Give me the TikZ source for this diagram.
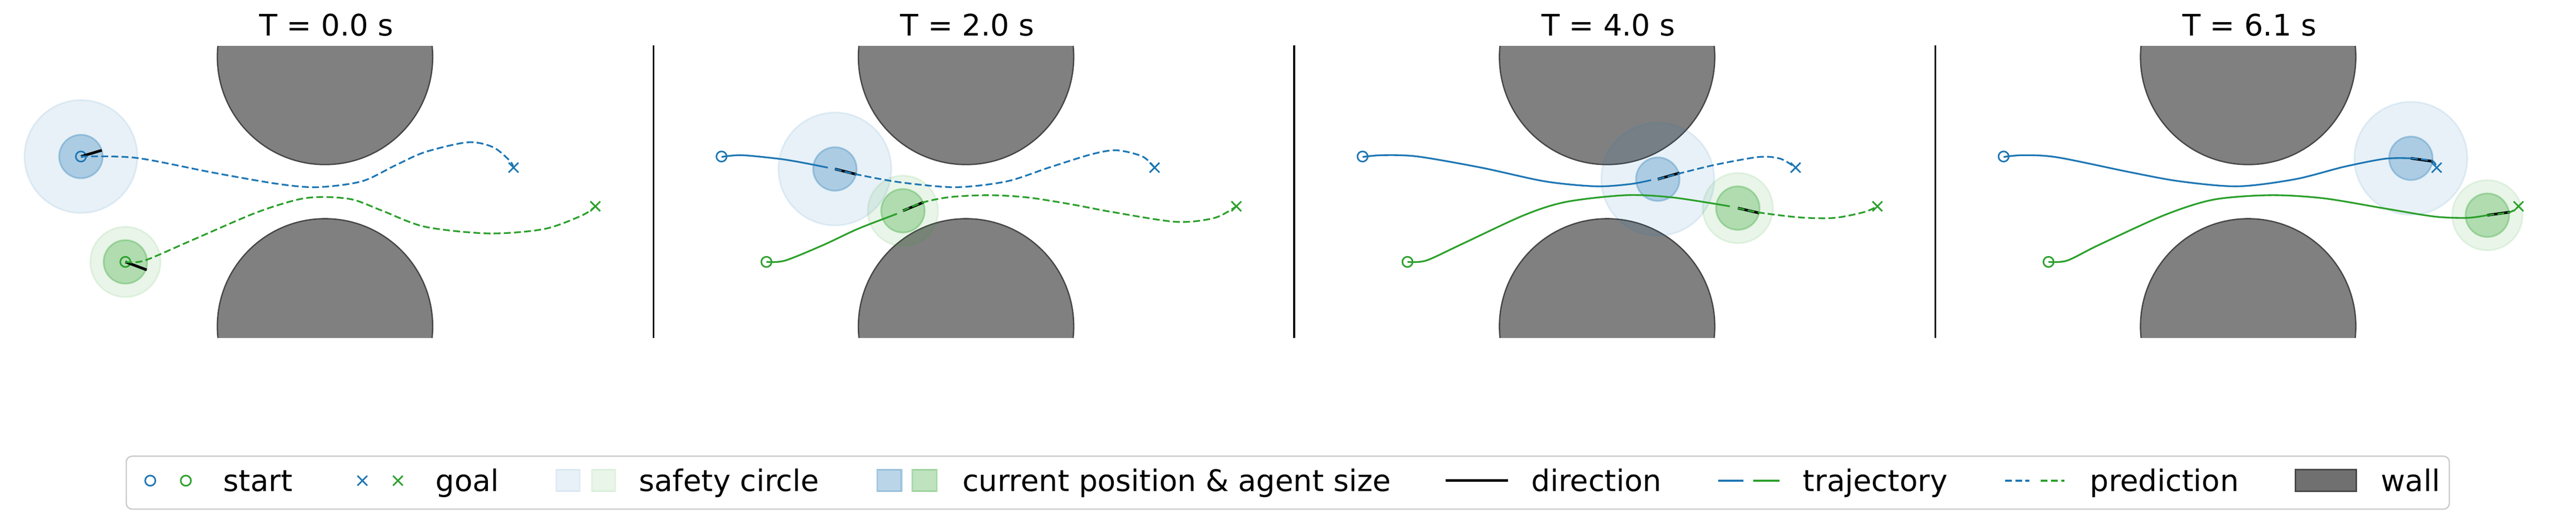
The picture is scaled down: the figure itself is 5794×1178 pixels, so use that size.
\documentclass[tikz,border=0pt]{standalone}
\usepackage{fontspec}
\setmainfont{DejaVu Sans}
\definecolor{tabblue}{RGB}{31,119,180}
\definecolor{tabgreen}{RGB}{44,160,44}
\definecolor{wallfill}{RGB}{128,128,128}
\definecolor{walledge}{RGB}{70,70,70}
\definecolor{legwall}{RGB}{112,112,112}
\definecolor{legframe}{RGB}{204,204,204}
\tikzset{
  wall/.style={fill=wallfill, draw=walledge, line width=0.85pt},
  safety/.style={fill=#1, draw=#1, fill opacity=0.1, draw opacity=0.1, line width=1.1pt},
  agentsize/.style={fill=#1, draw=#1, fill opacity=0.3, draw opacity=0.3, line width=1.1pt},
  traj/.style={draw=#1, line width=1.1pt},
  pred/.style={draw=#1, line width=1.1pt, dash pattern=on 4.4pt off 2.1pt},
  dirline/.style={draw=black, line width=1.7pt},
  divider/.style={draw=black, line width=1.1pt},
  lbl/.style={font=\fontsize{18.97}{22}\selectfont, inner sep=0pt, text=black},
  omark/.pic={\draw[line width=1pt] (0,0) circle[radius=0.115cm];},
  xmark/.pic={\draw[line width=1pt] (-0.11cm,-0.11cm) -- (0.11cm,0.11cm) (-0.11cm,0.11cm) -- (0.11cm,-0.11cm);},
}
\begin{document}
\begin{tikzpicture}[x=0.01cm, y=-0.01cm]
\useasboundingbox (0,0) rectangle (5794,1178);
% walls and titles
\foreach \k/\T in {0/0.0, 1/2.0, 2/4.0, 3/6.1} {
  \begin{scope}[xshift={(0.30+14.41*\k)*1cm}]
    \begin{scope}
      \clip (0,104) rectangle (1441,759);
      \draw[wall] (701,128) circle[radius=2.42cm];
      \draw[wall] (701,734) circle[radius=2.42cm];
    \end{scope}
    \node[lbl, anchor=base] (title\k) at (704,80) {T = \T\ s};
  \end{scope}
}
% dividers
\draw[divider] (1470,102) -- (1470,760);
\draw[divider] (2911,102) -- (2911,760);
\draw[divider] (4353,102) -- (4353,760);

% ---------- panel 1 : T = 0.0 s
\begin{scope}[xshift=0.30cm]
  \draw[safety=tabblue] (152,352) circle[radius=1.27cm];
  \draw[agentsize=tabblue] (152,352) circle[radius=0.49cm];
  \draw[safety=tabgreen] (252,589) circle[radius=0.79cm];
  \draw[agentsize=tabgreen] (252,589) circle[radius=0.49cm];
  \pic[color=tabblue] at (152,352) {omark};
  \pic[color=tabgreen] at (252,589) {omark};
  \pic[color=tabblue] at (1125,377) {xmark};
  \pic[color=tabgreen] at (1309,464) {xmark};
  \draw[dirline] (152,352) -- ++(47,-14);
  \draw[dirline] (252,589) -- ++(48,18);
  \draw[pred=tabblue] plot[smooth] coordinates {(152,352) (276,355) (448,388) (591,413) (682,421) (783,408) (859,372) (926,342) (1022,320) (1079,331) (1117,362) (1125,377)};
  \draw[pred=tabgreen] plot[smooth] coordinates {(252,589) (295,586) (400,541) (544,479) (639,449) (697,443) (764,449) (830,474) (926,510) (1069,525) (1194,515) (1280,484) (1309,464)};
\end{scope}

% ---------- panel 2 : T = 2.0 s
\begin{scope}[xshift=14.71cm]
  \draw[safety=tabblue] (406,380) circle[radius=1.27cm];
  \draw[agentsize=tabblue] (406,380) circle[radius=0.49cm];
  \draw[safety=tabgreen] (559,474) circle[radius=0.79cm];
  \draw[agentsize=tabgreen] (559,474) circle[radius=0.49cm];
  \pic[color=tabblue] at (151,352) {omark};
  \pic[color=tabgreen] at (252,589) {omark};
  \pic[color=tabblue] at (1125,377) {xmark};
  \pic[color=tabgreen] at (1309,464) {xmark};
  \draw[traj=tabblue] plot[smooth] coordinates {(151,353) (196,349) (279,357) (329,365) (390,377)};
  \draw[traj=tabgreen] plot[smooth] coordinates {(252,589) (294,586) (380,551) (457,515) (537,484) (545,481)};
  \draw[dirline] (406,380) -- ++(48,12);
  \draw[dirline] (559,474) -- ++(46,-19);
  \draw[pred=tabblue] plot[smooth] coordinates {(406,380) (454,392) (553,410) (677,421) (792,408) (887,377) (983,347) (1040,338) (1098,352) (1125,377)};
  \draw[pred=tabgreen] plot[smooth] coordinates {(559,474) (605,455) (667,443) (753,439) (839,444) (935,459) (1031,477) (1174,499) (1260,490) (1309,464)};
\end{scope}

% ---------- panel 3 : T = 4.0 s
\begin{scope}[xshift=29.12cm]
  \draw[safety=tabblue] (815,403) circle[radius=1.27cm];
  \draw[agentsize=tabblue] (815,403) circle[radius=0.49cm];
  \draw[safety=tabgreen] (995,468) circle[radius=0.79cm];
  \draw[agentsize=tabgreen] (995,468) circle[radius=0.49cm];
  \pic[color=tabblue] at (151,352) {omark};
  \pic[color=tabgreen] at (252,589) {omark};
  \pic[color=tabblue] at (1125,377) {xmark};
  \pic[color=tabgreen] at (1309,464) {xmark};
  \draw[traj=tabblue] plot[smooth] coordinates {(151,353) (196,349) (275,352) (418,377) (562,408) (676,419) (753,414) (800,405)};
  \draw[traj=tabgreen] plot[smooth] coordinates {(252,589) (294,586) (370,551) (514,484) (609,454) (743,439) (848,444) (977,464)};
  \draw[dirline] (815,403) -- ++(49,-14);
  \draw[dirline] (995,468) -- ++(48,11);
  \draw[pred=tabblue] plot[smooth] coordinates {(815,403) (864,390) (947,370) (1043,353) (1091,357) (1125,377)};
  \draw[pred=tabgreen] plot[smooth] coordinates {(995,468) (1043,478) (1135,489) (1212,490) (1279,477) (1309,464)};
\end{scope}

% ---------- panel 4 : T = 6.1 s
\begin{scope}[xshift=43.53cm]
  \draw[safety=tabblue] (1067,356) circle[radius=1.27cm];
  \draw[agentsize=tabblue] (1067,356) circle[radius=0.49cm];
  \draw[safety=tabgreen] (1239,484) circle[radius=0.79cm];
  \draw[agentsize=tabgreen] (1239,484) circle[radius=0.49cm];
  \pic[color=tabblue] at (151,352) {omark};
  \pic[color=tabgreen] at (252,589) {omark};
  \pic[color=tabblue] at (1125,377) {xmark};
  \pic[color=tabgreen] at (1309,464) {xmark};
  \draw[traj=tabblue] plot[smooth] coordinates {(151,353) (196,349) (273,354) (439,388) (549,408) (678,419) (807,403) (917,375) (1009,357) (1067,356)};
  \draw[traj=tabgreen] plot[smooth] coordinates {(252,589) (294,586) (365,551) (512,484) (623,449) (751,439) (871,446) (1009,469) (1120,487) (1193,490) (1239,484)};
  \draw[dirline] (1067,356) -- ++(50,7);
  \draw[dirline] (1239,484) -- ++(51,-7);
  \draw[pred=tabblue] plot[smooth] coordinates {(1067,356) (1115,362) (1125,377)};
  \draw[pred=tabgreen] plot[smooth] coordinates {(1239,484) (1290,477) (1309,464)};
\end{scope}

% ---------- legend
\draw[fill=white, draw=legframe, line width=0.85pt, rounded corners=0.13cm] (284,1026) rectangle (5509,1145);
\pic[color=tabblue] at (338,1081) {omark};
\pic[color=tabgreen] at (418,1081) {omark};
\node[lbl, anchor=base west] (lstart) at (502,1105) {start};
\pic[color=tabblue] at (815,1081) {xmark};
\pic[color=tabgreen] at (895,1081) {xmark};
\node[lbl, anchor=base west] (lgoal) at (979,1105) {goal};
\draw[safety=tabblue] (1251,1056) rectangle (1304,1105);
\draw[safety=tabgreen] (1331,1056) rectangle (1384,1105);
\node[lbl, anchor=base west] (lsafety) at (1437,1105) {safety circle};
\draw[agentsize=tabblue] (1973,1056) rectangle (2028,1105);
\draw[agentsize=tabgreen] (2052,1056) rectangle (2107,1105);
\node[lbl, anchor=base west] (lcurrent) at (2164,1105) {current position \& agent size};
\draw[dirline] (3251,1081) -- (3392,1081);
\node[lbl, anchor=base west] (ldirection) at (3444,1105) {direction};
\draw[traj=tabblue] (3864,1081) -- (3921,1081);
\draw[traj=tabgreen] (3943,1081) -- (4002,1081);
\node[lbl, anchor=base west] (ltraj) at (4055,1105) {trajectory};
\draw[pred=tabblue] (4510,1081) -- (4564,1081);
\draw[pred=tabgreen] (4590,1081) -- (4643,1081);
\node[lbl, anchor=base west] (lpred) at (4700,1105) {prediction};
\draw[fill=legwall, draw=walledge, line width=0.85pt] (5163,1056) rectangle (5300,1105);
\node[lbl, anchor=base west] (lwall) at (5355,1105) {wall};
\end{tikzpicture}
\end{document}
